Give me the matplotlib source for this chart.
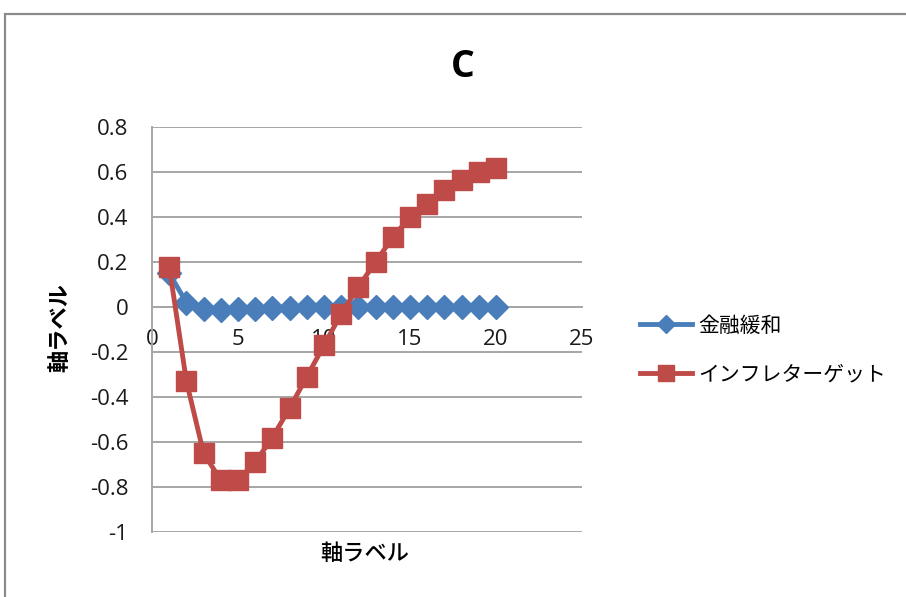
import matplotlib
matplotlib.use("Agg")
import matplotlib.pyplot as plt
from matplotlib.patches import Rectangle

x_vals = list(range(1, 21))
kinyu_kanwa = [0.15, 0.02, -0.008, -0.012, -0.01, -0.007, -0.005, -0.003, -0.002, -0.001,
               0.0, 0.0, 0.0, 0.0, 0.0, 0.0, 0.0, 0.0, 0.0, 0.0]
inflation_target = [0.18, -0.33, -0.65, -0.77, -0.77, -0.69, -0.58, -0.45, -0.31, -0.17,
                    -0.03, 0.09, 0.20, 0.31, 0.40, 0.46, 0.52, 0.565, 0.60, 0.62]
series_names = ["金融緩和", "インフレターゲット"]
title = "C"
x_label = "軸ラベル"
y_label = "軸ラベル"
x_ticks = [0, 5, 10, 15, 20, 25]
y_ticks = [0.8, 0.6, 0.4, 0.2, 0, -0.2, -0.4, -0.6, -0.8, -1]
y_tick_labels = ["0.8", "0.6", "0.4", "0.2", "0", "-0.2", "-0.4", "-0.6", "-0.8", "-1"]

blue = "#4A7EBB"
red = "#BE4B48"
grid_c = "#A6A6A6"
cjk = ["Noto Sans CJK JP", "DejaVu Sans"]
num_font = ["Open Sans", "DejaVu Sans"]

plt.rcParams["font.family"] = num_font

fig = plt.figure(figsize=(9.06, 5.97), dpi=100)
fig.patch.set_facecolor("white")
# outer chart border
fig.patches.append(Rectangle((5 / 906, -0.1), 1.2, (597 - 14) / 597 + 0.1,
                             transform=fig.transFigure, fill=False,
                             edgecolor="#8A8A8A", linewidth=1.6))

ax = fig.add_axes([152 / 906, (597 - 532) / 597, (582 - 152) / 906, (532 - 127) / 597])
ax.set_xlim(0, 25)
ax.set_ylim(-1, 0.8)

ax.plot(x_vals, kinyu_kanwa, color=blue, linewidth=3.5, marker="D", markersize=12,
        markerfacecolor=blue, markeredgecolor=blue, label=series_names[0], zorder=3)
ax.plot(x_vals, inflation_target, color=red, linewidth=3.5, marker="s", markersize=14.5,
        markerfacecolor=red, markeredgecolor=red, label=series_names[1], zorder=4)

ax.set_yticks(y_ticks)
ax.set_yticklabels(y_tick_labels)
ax.set_xticks(x_ticks)
ax.set_xticklabels([str(v) for v in x_ticks])

ax.grid(axis="y", color=grid_c, linewidth=1.4)
ax.set_axisbelow(True)
for s in ["top", "right"]:
    ax.spines[s].set_visible(False)
ax.spines["left"].set_color(grid_c)
ax.spines["left"].set_linewidth(1.4)
ax.spines["bottom"].set_position(("data", 0))
ax.spines["bottom"].set_color(grid_c)
ax.spines["bottom"].set_linewidth(1.4)
ax.tick_params(axis="both", labelsize=16, labelcolor="#1a1a1a")
ax.tick_params(axis="y", length=0, pad=17)
ax.tick_params(axis="x", length=0, pad=16)

fig.text(463 / 906, 1 - 67 / 597, title, ha="center", va="center",
         fontsize=27, fontweight="bold", family=num_font)
fig.text(365 / 906, 1 - 553 / 597, x_label, ha="center", va="center",
         fontsize=16, fontweight="medium", family=cjk)
fig.text(60 / 906, 1 - 328 / 597, y_label, ha="center", va="center", rotation=90,
         fontsize=16, fontweight="bold", family=cjk)

leg = ax.legend(loc="center left", bbox_to_anchor=(632 / 906, 1 - 350 / 597),
                bbox_transform=fig.transFigure, frameon=False,
                prop={"family": cjk, "size": 15}, handlelength=2.5,
                handletextpad=0.3, labelspacing=1.3, borderaxespad=0)
for h in leg.legend_handles:
    h.set_markersize(h.get_markersize() * 0.8)

fig.savefig("out.png", dpi=100)
